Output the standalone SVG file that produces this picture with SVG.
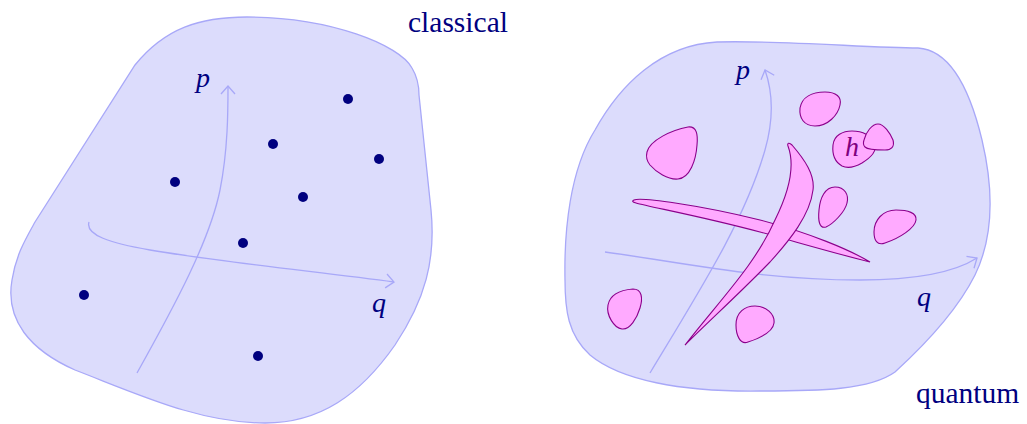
<svg xmlns="http://www.w3.org/2000/svg" width="1027" height="424" viewBox="0 0 1027 424">
<style>
.space{fill:#dcdcfc;stroke:#a8a8f8;stroke-width:1.3}
.axis{fill:none;stroke:#a8a8f8;stroke-width:1.3}
.dot{fill:#00007f}
.pink{fill:#ffaaff;stroke:#8b008b;stroke-width:1.1}
.lbl{font-family:"Liberation Serif",serif;font-size:29.5px;fill:#000080}
.var{font-family:"Liberation Serif",serif;font-style:italic;font-size:28px;fill:#000080}
</style>
<defs>
<marker id="arr" viewBox="-10 -8 12 16" markerWidth="12" markerHeight="16" refX="0" refY="0" orient="auto" markerUnits="userSpaceOnUse">
<path d="M -8,-7 L 0,0 L -8,7" fill="none" stroke="#a8a8f8" stroke-width="1.3"/>
</marker>
</defs>
<g id="classical">
<path class="space" d="M 247,17 C 330,17 400,45 412,68 C 418,78 419,88 419,95 L 431,210 C 436,260 425,300 395,345 C 360,395 320,423 265,423 C 200,423 140,395 75,370 C 30,350 5,320 12,280 C 16,255 25,240 35,222 L 135,65 C 165,28 200,17 247,17 Z"/>
<g id="classical-axes">
<path class="axis" d="M 137,373 C 175,305 210,240 220,190 C 228,150 228,110 228,86" marker-end="url(#arr)"/>
<path class="axis" d="M 89,222 C 85,235 110,243 150,250 C 220,262 320,272 394,282" marker-end="url(#arr)"/>
</g>
<text class="var" x="196" y="87">p</text>
<text class="var" x="372" y="312">q</text>
<g id="points">
<circle class="dot" cx="348" cy="99" r="5"/>
<circle class="dot" cx="273" cy="144" r="5"/>
<circle class="dot" cx="379" cy="159" r="5"/>
<circle class="dot" cx="175" cy="182" r="5"/>
<circle class="dot" cx="303" cy="197" r="5"/>
<circle class="dot" cx="243" cy="243" r="5"/>
<circle class="dot" cx="84" cy="295" r="5"/>
<circle class="dot" cx="258" cy="356" r="5"/>
</g>
<text class="lbl" x="408" y="32">classical</text>
</g>
<g id="quantum">
<path class="space" d="M 717,42 C 780,40 870,48 918,48 C 950,50 970,90 982,140 C 995,195 992,240 975,275 C 960,305 930,340 895,372 C 870,390 820,391 760,391 C 680,392 620,380 590,355 C 568,335 565,310 565,280 C 564,230 570,170 595,130 C 620,85 660,45 717,42 Z"/>
<g id="quantum-axes">
<path class="axis" d="M 650,373 C 700,290 745,220 765,150 C 775,115 772,90 765,70" marker-end="url(#arr)"/>
<path class="axis" d="M 605,252 C 680,262 760,280 860,280 C 920,280 955,272 977,258" marker-end="url(#arr)"/>
</g>
<text class="var" x="736" y="79">p</text>
<text class="var" x="917" y="306">q</text>
<g id="cells">
<path class="pink" d="M 647,152 C 650,140 672,130 688,127 C 697,126 698,135 697,145 C 696,160 690,178 678,179 C 668,180 656,172 650,165 C 646,160 646,156 647,152 Z"/>
<path class="pink" d="M 800,108 C 802,97 812,92 825,92 C 836,92 842,97 840,105 C 838,115 828,126 815,126 C 804,126 799,118 800,108 Z"/>
<path class="pink" d="M 833,145 C 834,135 843,131 852,131 C 862,131 872,135 875,145 C 877,152 870,158 862,163 C 855,167 848,169 842,166 C 835,162 832,155 833,145 Z"/>
<path class="pink" d="M 864,140 C 866,132 872,124 878,124 C 884,124 890,133 893,140 C 895,147 891,150 885,150 C 877,150 868,150 865,147 C 863,145 863,143 864,140 Z"/>
<path class="pink" d="M 819,210 C 820,198 825,187 835,187 C 845,187 849,195 847,203 C 845,212 833,224 826,227 C 819,229 818,220 819,210 Z"/>
<path class="pink" d="M 874,232 C 874,220 883,210 896,210 C 908,210 917,213 916,220 C 915,228 900,238 885,243 C 877,246 874,240 874,232 Z"/>
<path class="pink" d="M 608,305 C 610,295 620,290 633,289 C 642,289 643,298 640,308 C 637,318 630,330 622,329 C 614,328 606,315 608,305 Z"/>
<path class="pink" d="M 736,325 C 736,312 745,306 755,306 C 766,306 775,314 774,323 C 773,332 760,338 748,342 C 740,345 736,335 736,325 Z"/>
<path class="pink" d="M 634,200 C 640,197 700,205 760,220 C 810,233 850,250 870,262 C 845,256 800,243 760,232 C 700,216 650,207 636,203 C 632,202 632,201 634,200 Z"/>
<path class="pink" d="M 685,345 C 720,300 755,265 775,220 C 790,190 795,165 788,146 C 787,143 789,142 792,145 C 805,160 815,175 813,190 C 810,215 790,240 770,262 C 740,293 710,320 685,345 Z"/>
</g>
<text class="var" x="845" y="156" style="fill:#800080">h</text>
<text class="lbl" x="916" y="403">quantum</text>
</g>
</svg>
